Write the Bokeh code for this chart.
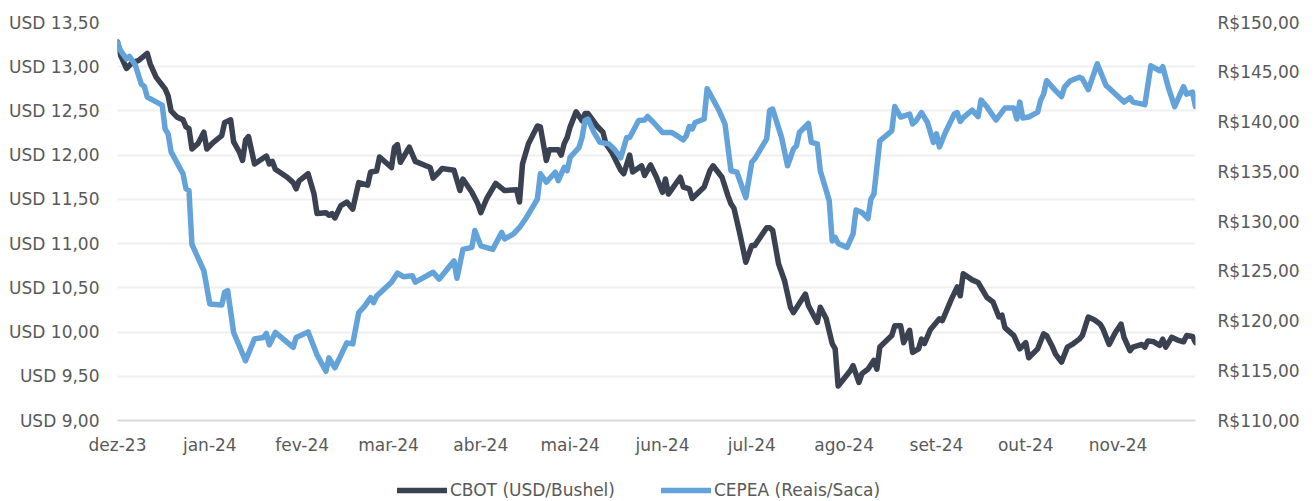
import pandas as pd
from bokeh.plotting import figure
from bokeh.layouts import column
from bokeh.models import (Range1d, LinearAxis, FixedTicker, CustomJSTickFormatter,
                          Legend, LegendItem, ColumnDataSource)
from bokeh.embed import file_html
from bokeh.resources import INLINE

# ---------------- data ----------------
cbot_dates = [
    "2023-12-01", "2023-12-02", "2023-12-04", "2023-12-06", "2023-12-08", "2023-12-11", "2023-12-12",
    "2023-12-14", "2023-12-17", "2023-12-18", "2023-12-19", "2023-12-21", "2023-12-23", "2023-12-24",
    "2023-12-25", "2023-12-26", "2023-12-28", "2023-12-30", "2023-12-31", "2024-01-02", "2024-01-05",
    "2024-01-06", "2024-01-08", "2024-01-09", "2024-01-11", "2024-01-12", "2024-01-13", "2024-01-14",
    "2024-01-16", "2024-01-20", "2024-01-21", "2024-01-22", "2024-01-23", "2024-01-27", "2024-01-29",
    "2024-01-30", "2024-01-31", "2024-02-03", "2024-02-05", "2024-02-06", "2024-02-09", "2024-02-10",
    "2024-02-11", "2024-02-12", "2024-02-14", "2024-02-16", "2024-02-18", "2024-02-20", "2024-02-23",
    "2024-02-24", "2024-02-26", "2024-02-27", "2024-03-02", "2024-03-03", "2024-03-04", "2024-03-05",
    "2024-03-08", "2024-03-10", "2024-03-15", "2024-03-16", "2024-03-18", "2024-03-19", "2024-03-23",
    "2024-03-25", "2024-03-26", "2024-03-29", "2024-03-31", "2024-04-01", "2024-04-03", "2024-04-06",
    "2024-04-09", "2024-04-13", "2024-04-14", "2024-04-15", "2024-04-17", "2024-04-20", "2024-04-21",
    "2024-04-23", "2024-04-24", "2024-04-27", "2024-04-28", "2024-04-29", "2024-04-30", "2024-05-01",
    "2024-05-03", "2024-05-05", "2024-05-06", "2024-05-07", "2024-05-10", "2024-05-12", "2024-05-13",
    "2024-05-15", "2024-05-18", "2024-05-19", "2024-05-21", "2024-05-22", "2024-05-25", "2024-05-26",
    "2024-05-28", "2024-05-30", "2024-06-01", "2024-06-02", "2024-06-03", "2024-06-07", "2024-06-08",
    "2024-06-10", "2024-06-11", "2024-06-15", "2024-06-17", "2024-06-18", "2024-06-21", "2024-06-23",
    "2024-06-24", "2024-06-25", "2024-06-27", "2024-06-29", "2024-07-01", "2024-07-02", "2024-07-06",
    "2024-07-07", "2024-07-08", "2024-07-10", "2024-07-12", "2024-07-14", "2024-07-15", "2024-07-19",
    "2024-07-20", "2024-07-23", "2024-07-24", "2024-07-26", "2024-07-28", "2024-07-29", "2024-07-30",
    "2024-08-03", "2024-08-04", "2024-08-06", "2024-08-07", "2024-08-09", "2024-08-11", "2024-08-12",
    "2024-08-13", "2024-08-17", "2024-08-18", "2024-08-20", "2024-08-21", "2024-08-23", "2024-08-24",
    "2024-08-26", "2024-08-27", "2024-08-28", "2024-08-30", "2024-09-02", "2024-09-03", "2024-09-06",
    "2024-09-08", "2024-09-09", "2024-09-10", "2024-09-13", "2024-09-15", "2024-09-18", "2024-09-20",
    "2024-09-22", "2024-09-23", "2024-09-24", "2024-09-27", "2024-09-29", "2024-10-01", "2024-10-02",
    "2024-10-05", "2024-10-07", "2024-10-08", "2024-10-10", "2024-10-11", "2024-10-13", "2024-10-15",
    "2024-10-17", "2024-10-19", "2024-10-20", "2024-10-22", "2024-10-24", "2024-10-26", "2024-10-27",
    "2024-10-29", "2024-10-31", "2024-11-02", "2024-11-03", "2024-11-05", "2024-11-06", "2024-11-09",
    "2024-11-10", "2024-11-11", "2024-11-13", "2024-11-15", "2024-11-16", "2024-11-17", "2024-11-19",
    "2024-11-21", "2024-11-23", "2024-11-24", "2024-11-26", "2024-11-27",
]
cbot_values = [
    13.28, 13.13, 12.98, 13.05, 13.07, 13.15, 13.03,
    12.88, 12.75, 12.67, 12.50, 12.43, 12.40, 12.32,
    12.30, 12.07, 12.13, 12.26, 12.07, 12.14, 12.22,
    12.37, 12.40, 12.15, 12.03, 11.94, 12.17, 12.21,
    11.90, 11.99, 11.90, 11.93, 11.84, 11.75, 11.69,
    11.62, 11.71, 11.79, 11.56, 11.34, 11.35, 11.32,
    11.34, 11.29, 11.43, 11.47, 11.39, 11.69, 11.66,
    11.81, 11.82, 11.98, 11.86, 12.09, 12.12, 11.92,
    12.09, 11.93, 11.86, 11.74, 11.81, 11.85, 11.83,
    11.60, 11.73, 11.58, 11.45, 11.35, 11.51, 11.68,
    11.60, 11.61, 11.47, 11.90, 12.13, 12.33, 12.32,
    11.94, 12.06, 12.06, 12.00, 12.13, 12.20, 12.32,
    12.49, 12.39, 12.47, 12.47, 12.33, 12.26, 12.13,
    12.03, 11.83, 11.79, 12.00, 11.81, 11.88, 11.77,
    11.89, 11.75, 11.58, 11.73, 11.56, 11.75, 11.64,
    11.62, 11.51, 11.64, 11.83, 11.88, 11.75, 11.54,
    11.45, 11.40, 11.11, 10.79, 10.98, 10.98, 11.18,
    11.18, 11.15, 10.77, 10.58, 10.28, 10.22, 10.43,
    10.30, 10.11, 10.28, 10.15, 9.87, 9.81, 9.39,
    9.56, 9.62, 9.43, 9.53, 9.58, 9.68, 9.58,
    9.83, 9.96, 10.07, 10.07, 9.88, 10.02, 9.77,
    9.81, 9.92, 9.87, 10.03, 10.15, 10.13, 10.37,
    10.51, 10.41, 10.66, 10.59, 10.56, 10.39, 10.34,
    10.17, 10.19, 10.05, 9.96, 9.81, 9.88, 9.71,
    9.81, 9.98, 9.96, 9.83, 9.75, 9.66, 9.83,
    9.87, 9.92, 9.96, 10.17, 10.14, 10.09, 10.03,
    9.86, 9.99, 10.09, 9.94, 9.79, 9.83, 9.86,
    9.83, 9.90, 9.89, 9.85, 9.92, 9.83, 9.94,
    9.91, 9.89, 9.96, 9.95, 9.88,
]

cepea_dates = [
    "2023-12-01", "2023-12-02", "2023-12-04", "2023-12-05", "2023-12-07", "2023-12-09", "2023-12-10",
    "2023-12-11", "2023-12-16", "2023-12-17", "2023-12-18", "2023-12-19", "2023-12-23", "2023-12-24",
    "2023-12-25", "2023-12-26", "2023-12-30", "2024-01-01", "2024-01-05", "2024-01-06", "2024-01-07",
    "2024-01-09", "2024-01-13", "2024-01-16", "2024-01-19", "2024-01-20", "2024-01-21", "2024-01-23",
    "2024-01-29", "2024-01-30", "2024-02-03", "2024-02-06", "2024-02-09", "2024-02-10", "2024-02-12",
    "2024-02-16", "2024-02-18", "2024-02-20", "2024-02-22", "2024-02-24", "2024-02-25", "2024-02-26",
    "2024-03-02", "2024-03-04", "2024-03-06", "2024-03-09", "2024-03-10", "2024-03-16", "2024-03-18",
    "2024-03-23", "2024-03-24", "2024-03-26", "2024-03-29", "2024-03-30", "2024-04-01", "2024-04-05",
    "2024-04-08", "2024-04-09", "2024-04-12", "2024-04-14", "2024-04-16", "2024-04-18", "2024-04-20",
    "2024-04-21", "2024-04-23", "2024-04-26", "2024-04-27", "2024-04-29", "2024-04-30", "2024-05-01",
    "2024-05-04", "2024-05-05", "2024-05-06", "2024-05-07", "2024-05-09", "2024-05-11", "2024-05-14",
    "2024-05-16", "2024-05-18", "2024-05-20", "2024-05-21", "2024-05-24", "2024-05-26", "2024-05-27",
    "2024-05-29", "2024-06-01", "2024-06-04", "2024-06-06", "2024-06-08", "2024-06-09", "2024-06-10",
    "2024-06-11", "2024-06-12", "2024-06-15", "2024-06-16", "2024-06-20", "2024-06-22", "2024-06-24",
    "2024-06-26", "2024-06-29", "2024-07-01", "2024-07-02", "2024-07-06", "2024-07-07", "2024-07-08",
    "2024-07-11", "2024-07-13", "2024-07-15", "2024-07-16", "2024-07-17", "2024-07-20", "2024-07-21",
    "2024-07-23", "2024-07-24", "2024-07-26", "2024-07-27", "2024-07-28", "2024-07-29", "2024-07-30",
    "2024-08-02", "2024-08-04", "2024-08-05", "2024-08-07", "2024-08-09", "2024-08-10", "2024-08-11",
    "2024-08-13", "2024-08-17", "2024-08-18", "2024-08-20", "2024-08-23", "2024-08-24", "2024-08-25",
    "2024-08-27", "2024-08-29", "2024-08-31", "2024-09-01", "2024-09-02", "2024-09-04", "2024-09-07",
    "2024-09-08", "2024-09-09", "2024-09-10", "2024-09-13", "2024-09-15", "2024-09-16", "2024-09-18",
    "2024-09-21", "2024-09-24", "2024-09-27", "2024-09-28", "2024-09-29", "2024-09-30", "2024-10-02",
    "2024-10-05", "2024-10-06", "2024-10-07", "2024-10-08", "2024-10-11", "2024-10-13", "2024-10-14",
    "2024-10-16", "2024-10-19", "2024-10-20", "2024-10-22", "2024-10-25", "2024-10-28", "2024-10-29",
    "2024-11-03", "2024-11-05", "2024-11-06", "2024-11-10", "2024-11-12", "2024-11-15", "2024-11-16",
    "2024-11-18", "2024-11-20", "2024-11-23", "2024-11-24", "2024-11-26", "2024-11-27",
]
cepea_values = [
    148.0, 147.2, 146.35, 146.6, 145.7, 143.8, 143.6,
    142.5, 141.7, 139.3, 138.8, 137.0, 134.8, 133.3,
    133.1, 127.7, 125.05, 121.7, 121.6, 122.9, 123.05,
    118.85, 116.0, 118.2, 118.35, 118.75, 117.6, 118.85,
    117.35, 118.35, 118.9, 116.6, 114.95, 116.3, 115.3,
    117.8, 117.7, 120.85, 121.5, 122.35, 121.85, 122.5,
    123.9, 124.8, 124.45, 124.55, 123.9, 124.9, 124.2,
    126.05, 124.3, 127.2, 127.4, 129.1, 127.55, 127.2,
    128.9, 128.25, 128.75, 129.4, 130.25, 131.25, 132.25,
    134.8, 133.95, 134.95, 134.1, 135.45, 135.1, 136.45,
    137.45, 138.45, 140.15, 140.3, 138.95, 137.95, 137.8,
    137.2, 136.4, 138.45, 138.45, 140.15, 140.2, 140.55,
    139.95, 138.95, 138.95, 138.6, 138.2, 138.6, 139.55,
    139.3, 139.95, 140.3, 143.35, 141.15, 139.8, 135.1,
    134.95, 132.4, 135.95, 136.3, 138.3, 141.15, 141.3,
    138.45, 135.6, 137.3, 137.6, 138.95, 139.85, 137.95,
    137.8, 135.1, 133.1, 132.1, 128.05, 128.4, 127.8,
    127.4, 128.75, 131.15, 130.9, 130.3, 132.25, 132.75,
    138.1, 139.1, 141.55, 140.5, 140.8, 139.8, 140.05,
    140.95, 139.95, 137.95, 138.8, 137.5, 138.95, 140.8,
    140.95, 140.05, 140.45, 141.2, 140.55, 142.2, 141.5,
    140.2, 141.4, 141.4, 140.3, 142.0, 140.4, 140.5,
    141.0, 142.2, 142.8, 144.15, 143.15, 142.55, 143.5,
    144.15, 144.5, 144.35, 143.25, 145.85, 143.65, 143.4,
    142.0, 142.45, 142.0, 141.75, 145.65, 145.15, 145.55,
    143.35, 141.55, 143.55, 142.8, 143.0, 141.55,
]

month_ticks = ["2023-12-01", "2024-01-01", "2024-02-01", "2024-03-01", "2024-04-01", "2024-05-01",
               "2024-06-01", "2024-07-01", "2024-08-01", "2024-09-01", "2024-10-01", "2024-11-01"]
usd_ticks = [9.0, 9.5, 10.0, 10.5, 11.0, 11.5, 12.0, 12.5, 13.0, 13.5]
brl_ticks = [110, 115, 120, 125, 130, 135, 140, 145, 150]

series_names = ["CBOT (USD/Bushel)", "CEPEA (Reais/Saca)"]
x_start, x_end = "2023-12-01", "2024-11-27"

# ---------------- styling ----------------
FONT = "DejaVu Sans"
TXT = "#595959"
DARK = "#3a4150"
BLUE = "#64a3d9"
LINE_W = 5.5

cbot_src = ColumnDataSource(dict(date=pd.to_datetime(cbot_dates), value=cbot_values))
cepea_src = ColumnDataSource(dict(date=pd.to_datetime(cepea_dates), value=cepea_values))

p = figure(frame_width=1078, frame_height=398,
           x_axis_type="datetime",
           x_range=Range1d(pd.Timestamp(x_start), pd.Timestamp(x_end)),
           y_range=Range1d(usd_ticks[0], usd_ticks[-1]),
           output_backend="svg", toolbar_location=None,
           min_border_left=117, min_border_right=104, min_border_top=22, min_border_bottom=40,
           background_fill_color="white", border_fill_color="white")
p.outline_line_color = None
p.extra_y_ranges = {"brl": Range1d(brl_ticks[0], brl_ticks[-1])}

r1 = p.line(x="date", y="value", source=cbot_src, line_color=DARK, line_width=LINE_W,
            line_join="round", line_cap="round")
r2 = p.line(x="date", y="value", source=cepea_src, y_range_name="brl", line_color=BLUE,
            line_width=LINE_W, line_join="round", line_cap="round")

# left axis
yl = p.yaxis[0]
yl.ticker = FixedTicker(ticks=usd_ticks)
yl.formatter = CustomJSTickFormatter(code="return 'USD ' + tick.toFixed(2).replace('.', ',');")
# right axis
yr = LinearAxis(y_range_name="brl", ticker=FixedTicker(ticks=brl_ticks),
                formatter=CustomJSTickFormatter(code="return 'R$' + tick.toFixed(2).replace('.', ',');"))
p.add_layout(yr, "right")

for ax in (yl, yr):
    ax.axis_line_color = None
    ax.major_tick_line_color = None
    ax.minor_tick_line_color = None
    ax.major_tick_in = 0
    ax.major_tick_out = 0
    ax.major_label_text_font = FONT
    ax.major_label_text_font_size = "17px"
    ax.major_label_text_color = TXT
yl.major_label_standoff = 18
yr.major_label_standoff = 22

# x axis
xa = p.xaxis[0]
xa.ticker = FixedTicker(ticks=[pd.Timestamp(d).value // 10**6 for d in month_ticks])
xa.formatter = CustomJSTickFormatter(code="""
const m = ['jan','fev','mar','abr','mai','jun','jul','ago','set','out','nov','dez'];
const d = new Date(tick);
return m[d.getUTCMonth()] + '-' + String(d.getUTCFullYear()).slice(2);
""")
xa.axis_line_color = "#d9d9d9"
xa.axis_line_width = 2
xa.major_tick_line_color = None
xa.minor_tick_line_color = None
xa.major_tick_in = 0
xa.major_tick_out = 0
xa.major_label_text_font = FONT
xa.major_label_text_font_size = "17px"
xa.major_label_text_color = TXT
xa.major_label_standoff = 14

p.xgrid.grid_line_color = None
p.ygrid.grid_line_color = "#efefef"
p.ygrid.grid_line_width = 2

# ---------------- legend strip below the chart ----------------
# The key renderers reuse the series sources; this strip's ranges keep the
# lines themselves out of view, so only the legend keys are drawn.
leg = figure(frame_width=1078, frame_height=40, output_backend="svg", toolbar_location=None,
             x_range=Range1d(0, 1), y_range=Range1d(0, 1),
             x_axis_location=None, y_axis_location=None,
             min_border_left=117, min_border_right=104, min_border_top=0, min_border_bottom=0,
             background_fill_color="white", border_fill_color="white")
leg.outline_line_color = None
leg.grid.grid_line_color = None
k1 = leg.line(x="date", y="value", source=cbot_src, line_color=DARK, line_width=LINE_W,
              line_cap="round")
k2 = leg.line(x="date", y="value", source=cepea_src, line_color=BLUE, line_width=LINE_W,
              line_cap="round")
legend = Legend(items=[LegendItem(label=series_names[0], renderers=[k1]),
                       LegendItem(label=series_names[1], renderers=[k2])],
                orientation="horizontal", location=(280, 0),
                label_text_font=FONT, label_text_font_size="17px", label_text_color=TXT,
                glyph_width=50, glyph_height=18, label_standoff=3, spacing=46,
                padding=0, margin=0, border_line_color=None, background_fill_alpha=0)
leg.add_layout(legend)

open("out.html", "w").write(file_html(column(p, leg, spacing=0), INLINE))
